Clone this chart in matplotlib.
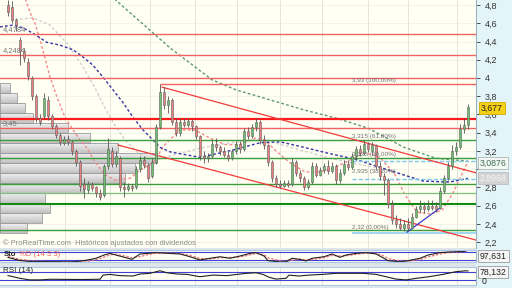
import matplotlib
matplotlib.use("Agg")
import matplotlib.pyplot as plt
import numpy as np
from matplotlib.ticker import FuncFormatter
from matplotlib.colors import LinearSegmentedColormap

plt.rcParams['font.family'] = ['Liberation Sans', 'DejaVu Sans']

# ---------------- data ----------------
opens = [4.80, 4.78, 4.64, 4.42, 4.30, 4.18, 4.00, 3.80, 3.56, 3.58,
         3.76, 3.58, 3.47, 3.38, 3.29, 3.33, 3.30, 3.20, 3.08, 2.84,
         2.77, 2.84, 2.80, 2.74, 2.72, 3.04, 3.20, 3.06, 3.12, 2.80,
         2.78, 2.82, 2.80, 3.00, 3.10, 3.05, 2.92, 3.08, 3.46, 3.85,
         3.70, 3.76, 3.52, 3.40, 3.52, 3.49, 3.53, 3.47, 3.36, 3.14,
         3.12, 3.15, 3.28, 3.24, 3.20, 3.16, 3.12, 3.20, 3.28, 3.22,
         3.42, 3.36, 3.46, 3.52, 3.32, 3.26, 3.08, 2.90, 2.84, 2.82,
         2.85, 2.84, 3.08, 2.96, 2.90, 2.80, 2.86, 3.04, 2.94, 2.99,
         3.04, 2.98, 3.04, 2.88, 2.96, 3.06, 3.02, 3.14, 3.22, 3.18,
         3.28, 3.20, 3.26, 3.04, 2.92, 2.88, 2.62, 2.44, 2.40, 2.36,
         2.40, 2.36, 2.48, 2.56, 2.60, 2.56, 2.60, 2.60, 2.58, 2.76,
         2.90, 3.04, 3.20, 3.24, 3.44, 3.48]
highs = [4.85, 4.84, 4.66, 4.45, 4.33, 4.22, 4.02, 3.82, 3.60, 3.84,
         3.80, 3.60, 3.50, 3.40, 3.36, 3.37, 3.32, 3.22, 3.10, 2.90,
         2.87, 2.86, 2.82, 2.78, 3.06, 3.34, 3.24, 3.20, 3.14, 2.86,
         2.85, 2.84, 3.03, 3.14, 3.14, 3.07, 3.12, 3.50, 3.93, 3.90,
         3.80, 3.78, 3.56, 3.56, 3.56, 3.56, 3.55, 3.48, 3.38, 3.20,
         3.18, 3.32, 3.34, 3.27, 3.24, 3.20, 3.22, 3.31, 3.31, 3.45,
         3.46, 3.50, 3.56, 3.54, 3.38, 3.28, 3.10, 2.94, 2.88, 2.88,
         2.88, 3.12, 3.10, 2.99, 2.92, 2.89, 3.08, 3.07, 3.02, 3.07,
         3.10, 3.08, 3.06, 3.00, 3.10, 3.10, 3.18, 3.25, 3.26, 3.32,
         3.30, 3.30, 3.28, 3.08, 2.96, 2.90, 2.66, 2.50, 2.46, 2.44,
         2.46, 2.52, 2.60, 2.66, 2.64, 2.66, 2.66, 2.64, 2.80, 2.94,
         3.08, 3.26, 3.30, 3.50, 3.56, 3.72]
lows = [4.68, 4.60, 4.52, 4.14, 4.17, 3.98, 3.76, 3.52, 3.49, 3.55,
        3.54, 3.44, 3.34, 3.27, 3.26, 3.27, 3.16, 3.04, 2.76, 2.68,
        2.74, 2.76, 2.70, 2.66, 2.70, 3.00, 3.02, 3.02, 2.76, 2.70,
        2.76, 2.76, 2.78, 2.97, 3.01, 2.86, 2.90, 3.06, 3.44, 3.66,
        3.62, 3.48, 3.36, 3.36, 3.46, 3.46, 3.42, 3.33, 3.10, 3.07,
        3.08, 3.12, 3.20, 3.16, 3.13, 3.09, 3.10, 3.17, 3.18, 3.20,
        3.33, 3.34, 3.42, 3.28, 3.22, 3.04, 2.86, 2.80, 2.79, 2.80,
        2.80, 2.82, 2.92, 2.86, 2.77, 2.78, 2.84, 2.91, 2.92, 2.96,
        2.95, 2.96, 2.84, 2.85, 2.94, 2.99, 3.00, 3.10, 3.14, 3.16,
        3.19, 3.16, 3.00, 2.88, 2.72, 2.58, 2.40, 2.36, 2.33, 2.32,
        2.32, 2.34, 2.46, 2.52, 2.52, 2.54, 2.55, 2.53, 2.56, 2.74,
        2.88, 3.00, 3.16, 3.22, 3.40, 3.44]
closes = [4.72, 4.64, 4.58, 4.30, 4.22, 4.02, 3.80, 3.56, 3.52, 3.78,
          3.58, 3.47, 3.38, 3.30, 3.33, 3.30, 3.20, 3.08, 2.82, 2.78,
          2.84, 2.79, 2.74, 2.70, 3.04, 3.22, 3.06, 3.14, 2.80, 2.78,
          2.82, 2.79, 3.00, 3.10, 3.05, 2.90, 3.08, 3.46, 3.85, 3.70,
          3.76, 3.52, 3.40, 3.52, 3.49, 3.53, 3.47, 3.36, 3.14, 3.12,
          3.15, 3.28, 3.24, 3.20, 3.16, 3.12, 3.20, 3.28, 3.22, 3.42,
          3.36, 3.46, 3.52, 3.32, 3.26, 3.08, 2.90, 2.84, 2.82, 2.85,
          2.83, 3.08, 2.96, 2.90, 2.80, 2.86, 3.04, 2.94, 2.99, 3.04,
          2.98, 3.04, 2.88, 2.96, 3.06, 3.02, 3.14, 3.22, 3.18, 3.28,
          3.22, 3.26, 3.04, 2.92, 2.88, 2.62, 2.44, 2.40, 2.36, 2.40,
          2.36, 2.48, 2.56, 2.60, 2.56, 2.60, 2.58, 2.56, 2.76, 2.90,
          3.04, 3.20, 3.24, 3.44, 3.48, 3.677]

# moving averages (traced)
ma_red_x = [4.25, 5.5, 6.75, 8, 9.25, 10.5, 12.25, 14.25, 16.25, 18, 19.75, 21.75,
            24.25, 26.75, 30.5, 33, 36.25, 39.25, 43, 46.75, 50.5, 54.25, 58, 61.75,
            64.25, 66.75, 70.5, 74.25, 78, 81.75, 85.5, 89.25, 93, 96.75, 99.25,
            102.25, 105.5, 108.5, 111.25, 113.75, 115]
ma_red_y = [4.88, 4.72, 4.60, 4.42, 4.22, 4.01, 3.79, 3.57, 3.43, 3.32, 3.23, 3.08,
            2.94, 2.88, 2.90, 2.99, 3.07, 3.27, 3.43, 3.43, 3.34, 3.27, 3.27, 3.34,
            3.32, 3.21, 3.07, 2.97, 2.97, 3.02, 3.10, 3.18, 3.13, 2.94, 2.72,
            2.53, 2.51, 2.55, 2.74, 2.97, 3.08]
ma_grey_x = [1.75, 6.25, 10.5, 14.75, 18.75, 21.75, 24.25, 26.75, 29.25, 33, 36.75,
             41.75, 48, 55.5, 61.75, 66.75, 73, 80.5, 88, 95.5, 103, 109.25, 115]
ma_grey_y = [4.64, 4.66, 4.58, 4.38, 4.12, 3.89, 3.67, 3.48, 3.32, 3.16, 3.10,
             3.16, 3.23, 3.29, 3.32, 3.29, 3.21, 3.12, 3.05, 2.99, 2.88, 2.85, 2.8968]
ma_blue_x = [-2, 1.25, 3.75, 6.25, 9.75, 13, 16.25, 18.75, 21.25, 23.75, 26.25, 28.75,
             31.25, 33.75, 36.25, 38, 40.5, 48, 56.25, 63, 68, 73, 80.5, 86.75, 93,
             98, 103.75, 110.5, 115]
ma_blue_y = [4.56, 4.58, 4.55, 4.49, 4.39, 4.36, 4.31, 4.23, 4.14, 4.01, 3.87, 3.73,
             3.57, 3.43, 3.32, 3.24, 3.19, 3.13, 3.21, 3.29, 3.30, 3.25, 3.17, 3.11, 3.02,
             2.95, 2.87, 2.86, 2.90]
ma_green_x = [26, 40.5, 51, 57, 65.5, 74, 82, 90, 99, 107, 115]
ma_green_y = [4.89, 4.33, 3.98, 3.87, 3.76, 3.65, 3.56, 3.45, 3.24, 3.12, 3.0876]

# horizontal levels
red_levels = [4.4784, 4.2484, 4.00, 3.45]
red_major = 3.555
green_levels = [3.315, 3.12, 2.84, 2.33]
green_light = 2.74
green_major = 2.62
blue_dashed_levels = [3.0876, 2.8968]
blue_solid_level = 2.30
fib_levels = [3.93, 3.315, 3.125, 2.935, 2.32]
fib_texts = ["3,93 (100,00%)", "3,315 (61,80%)", "3,125 (50,00%)",
             "2,935 (38,20%)", "2,32 (0,00%)"]
left_labels = [(4.4784, "4,4784"), (4.2484, "4,2484"), (3.45, "3,45")]

# trend lines (bar index, price)
chan_upper = ([38.5, 117], [3.90, 2.96])
chan_lower = ([27.5, 117], [3.265, 2.223])
blue_trend = ([99.75, 108], [2.31, 2.575])

# volume profile
vp_bottom = [2.30, 2.41, 2.52, 2.63, 2.74, 2.85, 2.96, 3.07, 3.18, 3.29,
             3.40, 3.51, 3.62, 3.73, 3.84]
vp_volume = [27, 42, 50, 45, 83, 125, 135, 157, 118, 90, 68, 33, 25, 17, 10]

month_x = [14.25, 25.5, 35.5, 46.75, 57.25, 68, 78.5, 90, 100, 112.25]
price_ticks = [2.2, 2.4, 2.6, 2.8, 3.0, 3.2, 3.4, 3.6, 3.8, 4.0, 4.2, 4.4, 4.6, 4.8]
hidden_tick = 3.0   # covered by the value boxes in the reference

# stochastic
sto_x = [0, 3, 6, 10, 15, 17, 20, 22, 24, 25.5, 27, 30, 31, 33, 35, 37, 40, 43, 45.5,
         48, 50.5, 53, 55.5, 58, 60.5, 62, 64, 65, 68, 69.5, 71, 73, 74.5, 76, 79, 81,
         83, 84.5, 87, 89.5, 92, 94, 95, 98, 100, 103, 105, 108, 110, 114, 115]
sto_k = [38, 12, 3, 3, 1, 3, 17, 31, 58, 72, 58, 31, 22, 67, 72, 78, 72, 67, 44,
         17, 31, 44, 31, 50, 72, 78, 50, 11, 1, 2, 31, 22, 8, 31, 44, 67,
         39, 58, 72, 78, 67, 31, 11, 2, 11, 31, 58, 78, 83, 88, 97.631]
sto_d = [45, 22, 8, 4, 2, 2, 8, 20, 40, 60, 64, 45, 35, 45, 62, 73, 75, 70, 55,
         30, 25, 36, 38, 42, 60, 72, 62, 35, 10, 4, 15, 24, 18, 20, 36, 55,
         50, 52, 64, 74, 72, 50, 30, 8, 7, 20, 42, 66, 78, 86, 92]

# RSI
rsi_x = [0, 0.5, 3, 5.5, 8, 10.5, 14.75, 18.75, 23, 23.75, 25.5, 28, 31.25, 33, 35.5,
         38, 39.75, 42.25, 44.75, 48, 51.25, 54.75, 57.25, 59.75, 62, 63.75, 65.25,
         67, 69.5, 70.25, 72.75, 75.25, 78.75, 82, 85.25, 88.75, 92, 94.5, 97, 99.5,
         102, 105.25, 108.75, 112, 114.5, 115]
rsi_v = [52, 50, 37, 28, 28, 32, 31, 30.5, 32, 55, 59, 52, 50, 61, 65,
         79, 68, 61, 59, 46, 55, 52, 59, 65, 68, 59, 43,
         33, 37, 55, 50, 55, 59, 65, 65, 65, 59, 46, 33, 28,
         37, 46, 59, 74, 79, 78.132]

# ---------------- drawing ----------------
W, H = 512, 288
def rect(x0, y0, x1, y1):
    return [x0 / W, 1 - y1 / H, (x1 - x0) / W, (y1 - y0) / H]

fig = plt.figure(figsize=(W / 100, H / 100), dpi=100)
fig.patch.set_facecolor('#e4f5fa')
fig.patches.append(plt.Rectangle((0, 0), 476 / W, 1, transform=fig.transFigure,
                                 facecolor='#dfe6ea', edgecolor='none', zorder=-10))

BG = '#fffff4'
ax = fig.add_axes(rect(0, 0, 476, 248))
ax.set_facecolor(BG)
XL = (-2, 117)
YL = (2.136, 4.855)

# grid
for v in price_ticks:
    ax.axhline(v, color='#efefe4', lw=0.5, zorder=0.5)
for m in month_x:
    ax.axvline(m, color='#e4e4da', lw=0.7, zorder=0.5)

# volume profile with gradient
cmap = LinearSegmentedColormap.from_list('vp', ['#f6f6f6', '#c2c2c2'])
grad = np.linspace(0, 1, 32).reshape(-1, 1)
for b, vol in zip(vp_bottom, vp_volume):
    w = vol * 0.25
    patch = plt.Rectangle((XL[0], b), w, 0.11, facecolor='none',
                          edgecolor='#9a9a9a', lw=0.6, zorder=1.2)
    ax.add_patch(patch)
    im = ax.imshow(grad, extent=[XL[0], XL[0] + w, b, b + 0.11], origin='upper',
                   cmap=cmap, aspect='auto', zorder=1.1, interpolation='bilinear')
    im.set_clip_path(patch)

# moving averages
ax.plot(ma_grey_x, ma_grey_y, color='#cfcfcf', lw=1.0, dashes=(2, 1.6), zorder=2)
ax.plot(ma_red_x, ma_red_y, color='#f28a8a', lw=1.0, dashes=(2, 1.6), zorder=2)
ax.plot(ma_green_x, ma_green_y, color='#5d9a6e', lw=1.0, dashes=(2, 1.6), zorder=2)
ax.plot(ma_blue_x, ma_blue_y, color='#3535a5', lw=1.0, dashes=(2, 1.6), zorder=2)

# horizontal levels
for v in red_levels:
    ax.axhline(v, color='#f26060', lw=1.0, zorder=3)
ax.axhline(red_major, color='#ff1a1a', lw=1.6, zorder=3)
ax.hlines(fib_levels[0], 38, XL[1], color='#f26060', lw=1.0, zorder=3)
for v in green_levels:
    ax.axhline(v, color='#3c9c3c', lw=1.0, zorder=3)
ax.axhline(green_light, color='#7cc07c', lw=0.9, zorder=3)
ax.axhline(green_major, color='#138a13', lw=1.5, zorder=3)
for v in blue_dashed_levels:
    ax.hlines(v, 86, XL[1], color='#7cc8ee', lw=1.0, linestyles=(0, (3, 1.5)), zorder=3)
ax.hlines(blue_solid_level, 86, XL[1], color='#8fd0f0', lw=1.2, zorder=3)

# trend lines
ax.plot(*chan_upper, color='#f03a3a', lw=0.9, zorder=3)
ax.plot(*chan_lower, color='#f03a3a', lw=0.9, zorder=3)
ax.plot(*blue_trend, color='#3a3ad0', lw=0.9, zorder=3)

# candles
x = np.arange(len(closes))
for i in x:
    o, h, l, c = opens[i], highs[i], lows[i], closes[i]
    ax.vlines(i, l, h, color='#555555', lw=0.6, zorder=4)
    col = '#6cc06c' if c >= o else '#e88080'
    ax.bar(i, max(abs(c - o), 0.008), bottom=min(o, c), width=0.72,
           color=col, edgecolor='#606060', lw=0.4, zorder=5)

# texts
for v, t in zip(fib_levels, fib_texts):
    ax.text(86, v + 0.012, t, fontsize=4.6, color='#707070', va='bottom', ha='left', zorder=6)
for v, t in left_labels:
    ax.text(-1.2, v + 0.012, t, fontsize=5.4, color='#777777', va='bottom', ha='left', zorder=6)
ax.text(3 / 476, 0.02, '© ProRealTime.com  Históricos ajustados con dividendos',
        transform=ax.transAxes, fontsize=5.4, color='#8a8a8a', va='center', ha='left')

def tick_fmt(v, p):
    if abs(v - hidden_tick) < 1e-6:
        return ''
    return (f"{v:.1f}".rstrip('0').rstrip('.')).replace('.', ',')

ax.set_xlim(*XL)
ax.set_ylim(*YL)
ax.set_yticks(price_ticks)
ax.yaxis.tick_right()
ax.yaxis.set_major_formatter(FuncFormatter(tick_fmt))
ax.tick_params(axis='y', labelsize=6.5, colors='#333333', length=3, width=0.6, pad=3)
ax.set_xticks([])
for s in ['top', 'left', 'bottom']:
    ax.spines[s].set_visible(False)
ax.spines['right'].set_color('#9ab4c0')
ax.spines['right'].set_linewidth(0.8)

# stochastic panel
ax_s = fig.add_axes(rect(0, 250, 476, 262))
ax_s.set_facecolor(BG)
for m in month_x:
    ax_s.axvline(m, color='#e4e4da', lw=0.7, zorder=0.5)
ax_s.axhline(80, color='#4040d8', lw=0.8)
ax_s.axhline(20, color='#4040d8', lw=0.8)
ax_s.plot(sto_x, sto_d, color='#f07070', lw=0.9, dashes=(2, 1.2))
ax_s.plot(sto_x, sto_k, color='#222222', lw=0.8)
ax_s.set_xlim(*XL)
ax_s.set_ylim(0, 100)
ax_s.set_xticks([]); ax_s.set_yticks([])
for s in ['top', 'bottom']:
    ax_s.spines[s].set_color('#a9c9e6'); ax_s.spines[s].set_linewidth(0.8)
ax_s.spines['left'].set_visible(False)
ax_s.spines['right'].set_color('#9ab4c0')

# RSI panel
ax_r = fig.add_axes(rect(0, 267, 476, 285))
ax_r.set_facecolor(BG)
for m in month_x:
    ax_r.axvline(m, color='#e4e4da', lw=0.7, zorder=0.5)
ax_r.axhline(70, color='#4040d8', lw=0.8)
ax_r.axhline(30, color='#4040d8', lw=0.8)
rx = np.array(rsi_x); rv = np.array(rsi_v)
ax_r.fill_between(rx, rv, 30, where=rv < 30, color='#60b060', interpolate=True, lw=0)
ax_r.plot(rsi_x, rsi_v, color='#222222', lw=0.8)
ax_r.set_xlim(*XL)
ax_r.set_ylim(0, 100)
ax_r.set_xticks([]); ax_r.set_yticks([])
for s in ['top', 'bottom']:
    ax_r.spines[s].set_color('#a9c9e6'); ax_r.spines[s].set_linewidth(0.8)
ax_r.spines['left'].set_visible(False)
ax_r.spines['right'].set_color('#9ab4c0')

# panel titles
fig.text(4 / W, 1 - 254 / H, 'Sto', fontsize=5.6, color='#222222', va='center', ha='left', weight='bold')
fig.text(19 / W, 1 - 254 / H, '%D (14 3 3)', fontsize=5.6, color='#f06060', va='center', ha='left')
fig.text(3 / W, 1 - 270.5 / H, 'RSI (14)', fontsize=5.8, color='#222222', va='center', ha='left')

# right-side value boxes
def vbox(px, py, txt, fc, ec, tc, fs=6.3):
    fig.text(px / W, 1 - py / H, txt, fontsize=fs, color=tc, va='center', ha='left',
             bbox=dict(boxstyle='square,pad=0.18', facecolor=fc, edgecolor=ec, lw=0.6))

vbox(481, 108, '3,677', '#f7d117', '#d0aa00', '#222222')
vbox(480, 163, '3,0876', '#f4f8f4', '#b0b8b0', '#3f6f55')
vbox(480, 178, '2,8968', '#d4d4d4', '#bdbdbd', '#f4f4f4')
vbox(480, 256, '97,631', '#f6f6f6', '#9a9a9a', '#222222')
vbox(480, 272, '78,132', '#f6f6f6', '#9a9a9a', '#222222')
fig.text(482 / W, 1 - 282 / H, '0', fontsize=6.3, color='#222222', va='center', ha='left')

fig.savefig('out.png', dpi=100, facecolor=fig.get_facecolor())
